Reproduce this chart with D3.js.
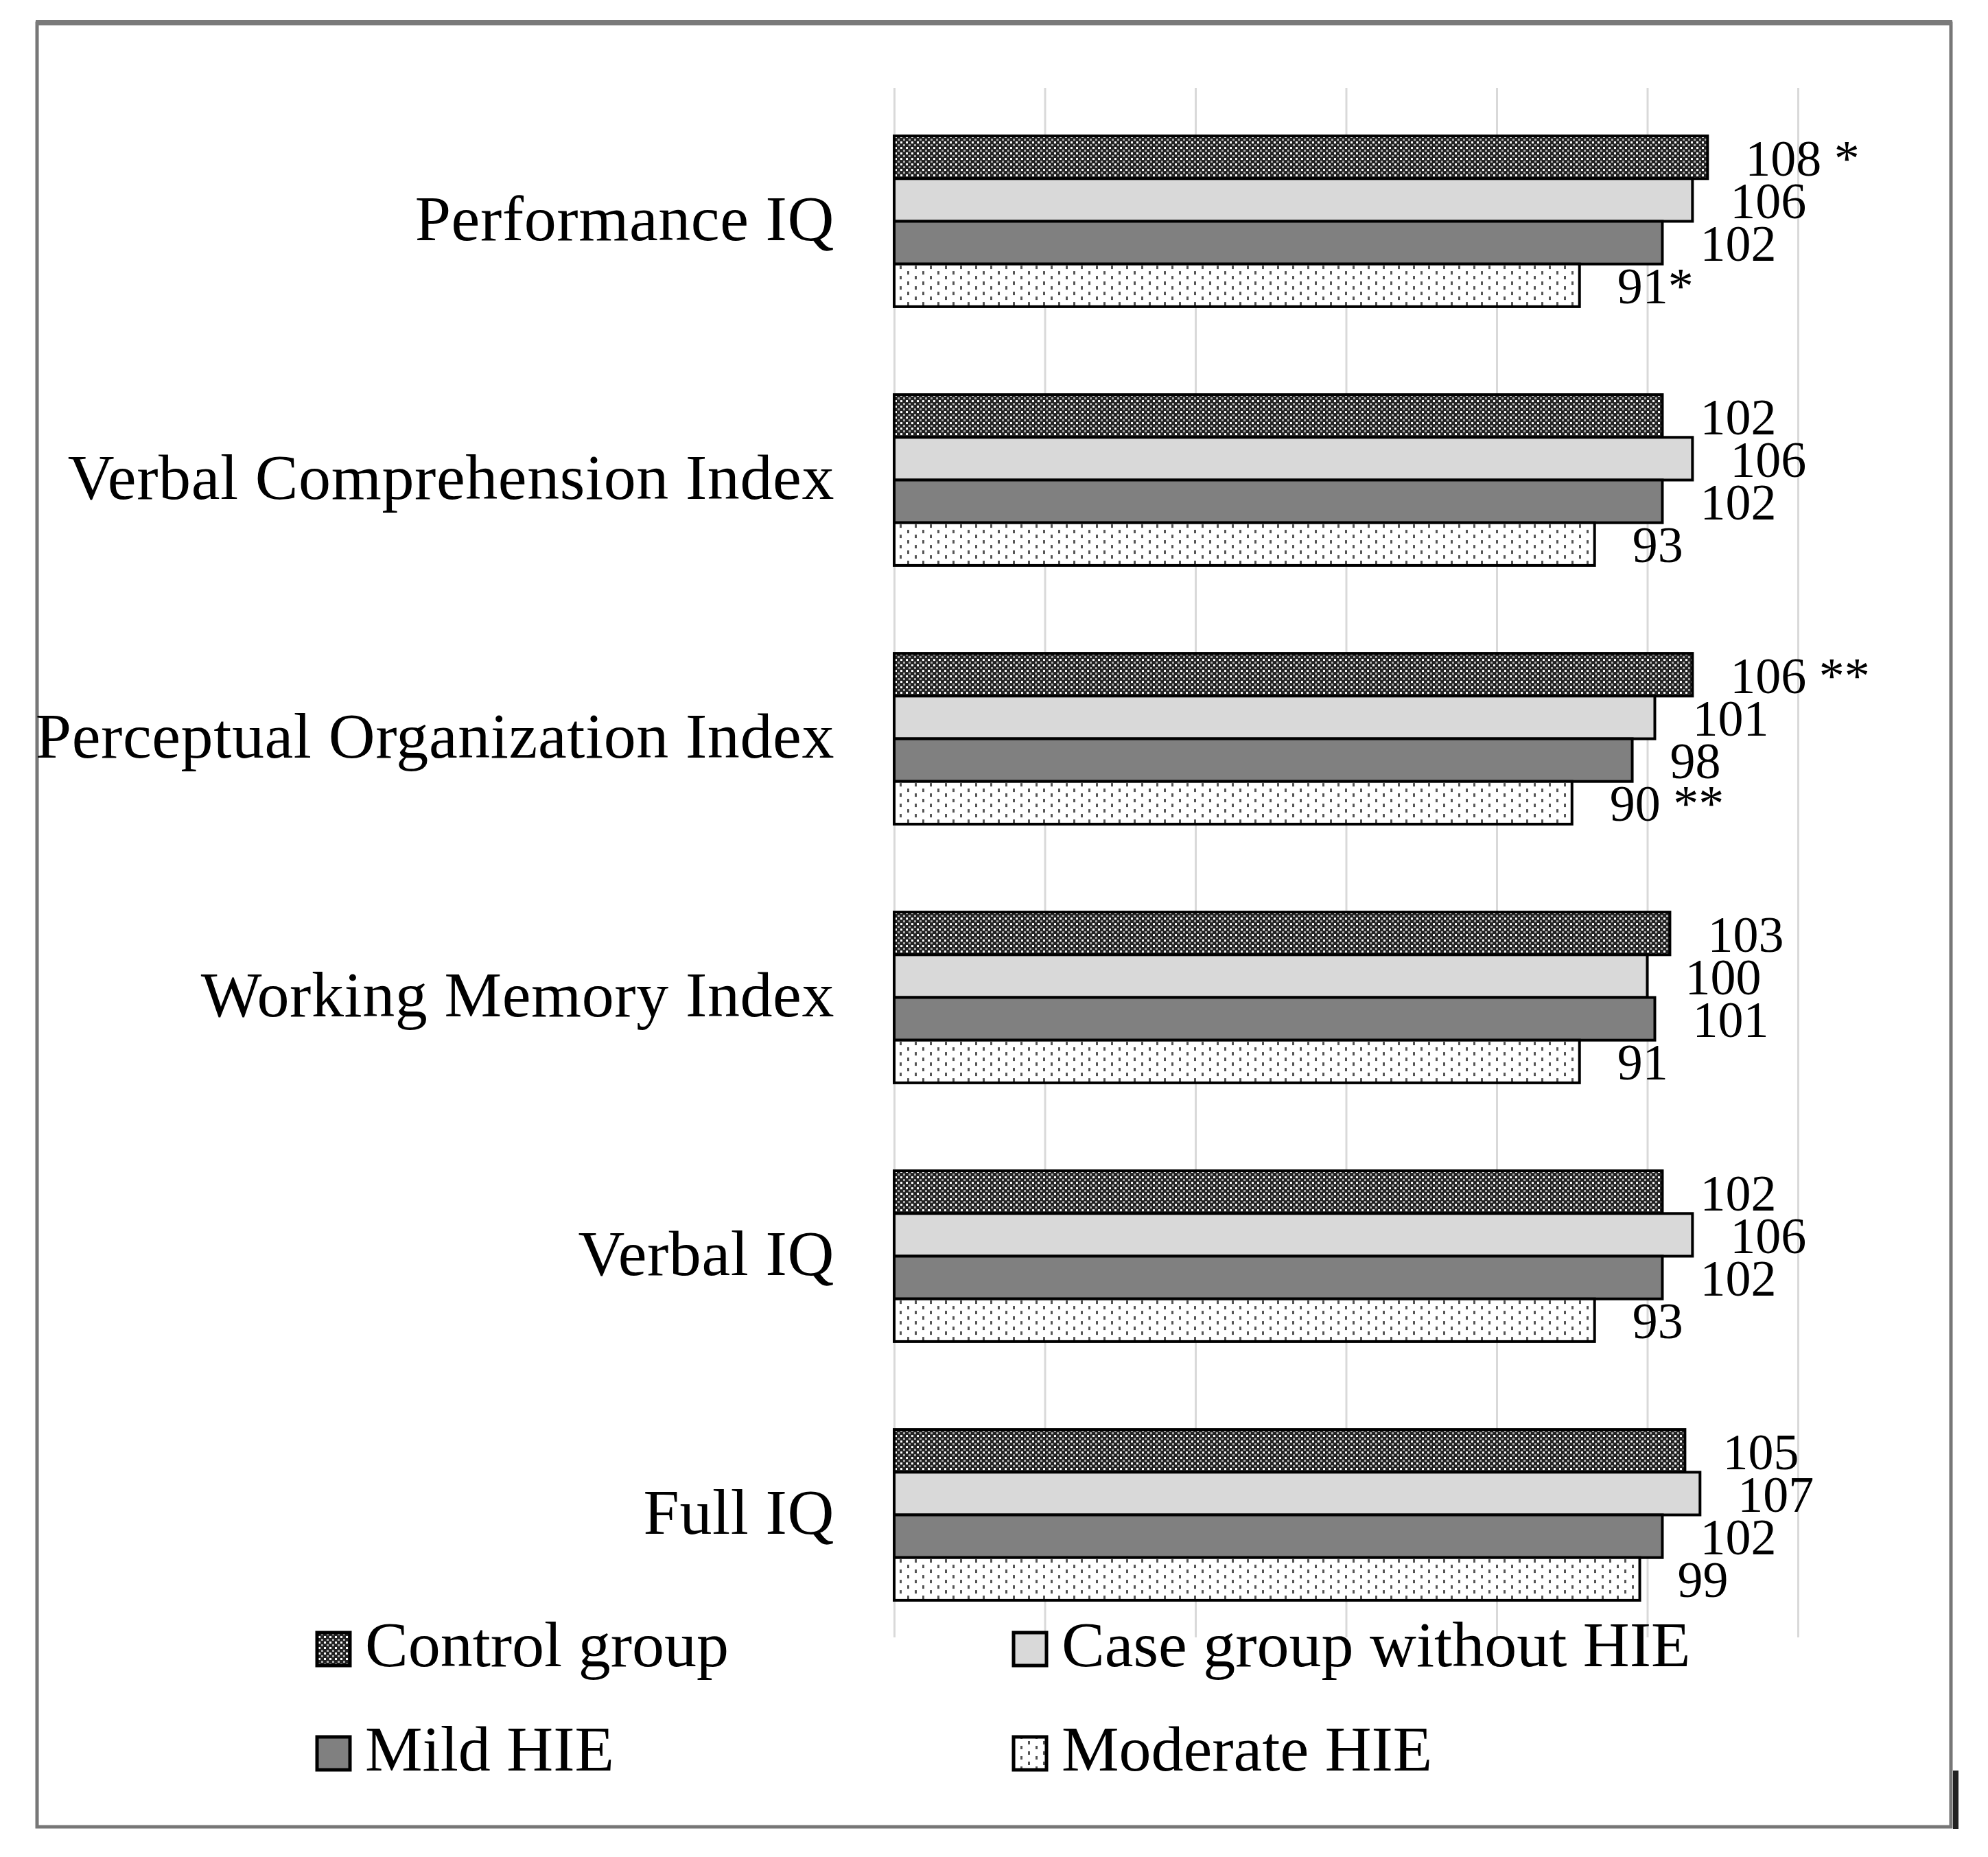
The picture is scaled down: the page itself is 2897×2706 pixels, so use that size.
<!DOCTYPE html>
<html>
<head>
<meta charset="utf-8">
<script src="https://cdn.jsdelivr.net/npm/d3@7"></script>
<style>
  html, body { margin: 0; padding: 0; background: #fff; }
  svg { display: block; }
  text { font-family: "Liberation Serif", "Times New Roman", serif; fill: #000; }
</style>
</head>
<body>
<script>
// ---- data ----
const categories = ["Performance IQ", "Verbal Comprehension Index", "Perceptual Organization Index", "Working Memory Index", "Verbal IQ", "Full IQ"];
const seriesNames = ["Control group", "Case group without HIE", "Mild HIE", "Moderate HIE"];
const controlValues  = [108, 102, 106, 103, 102, 105];
const caseValues     = [106, 106, 101, 100, 106, 107];
const mildValues     = [102, 102, 98, 101, 102, 102];
const moderateValues = [91, 93, 90, 91, 93, 99];
const controlLabels  = ["108 *", "102", "106 **", "103", "102", "105"];
const caseLabels     = ["106", "106", "101", "100", "106", "107"];
const mildLabels     = ["102", "102", "98", "101", "102", "102"];
const moderateLabels = ["91*", "93", "90 **", "91", "93", "99"];
const gridTicks = [0, 20, 40, 60, 80, 100, 120];

const seriesValues = [controlValues, caseValues, mildValues, moderateValues];
const seriesLabels = [controlLabels, caseLabels, mildLabels, moderateLabels];

const W = 2897, H = 2706;
const svg = d3.select("body").append("svg").attr("width", W).attr("height", H);
svg.append("rect").attr("width", W).attr("height", H).attr("fill", "#fff");

// ---- patterns ----
const defs = svg.append("defs");
const pc = defs.append("pattern").attr("id", "pControl").attr("patternUnits", "userSpaceOnUse")
  .attr("width", 8).attr("height", 8);
pc.append("rect").attr("width", 8).attr("height", 8).attr("fill", "#222");
pc.append("rect").attr("x", 0).attr("y", 0).attr("width", 3).attr("height", 3).attr("fill", "#fff");
pc.append("rect").attr("x", 4).attr("y", 4).attr("width", 3).attr("height", 3).attr("fill", "#aaa");

const pm = defs.append("pattern").attr("id", "pModerate").attr("patternUnits", "userSpaceOnUse")
  .attr("width", 22).attr("height", 15);
pm.append("rect").attr("width", 22).attr("height", 15).attr("fill", "#fff");
pm.append("rect").attr("x", 2).attr("y", 2).attr("width", 3).attr("height", 5).attr("fill", "#555");
pm.append("rect").attr("x", 13).attr("y", 9).attr("width", 3).attr("height", 5).attr("fill", "#555");

const fills = ["url(#pControl)", "#d9d9d9", "#808080", "url(#pModerate)"];

// ---- frame ----
svg.append("rect").attr("x", 54).attr("y", 34).attr("width", 2789).attr("height", 2628)
  .attr("fill", "none").attr("stroke", "#777").attr("stroke-width", 5);
svg.append("line").attr("x1", 52).attr("x2", 2845).attr("y1", 33).attr("y2", 33)
  .attr("stroke", "#7a7a7a").attr("stroke-width", 8);
svg.append("rect").attr("x", 2846).attr("y", 2580).attr("width", 8).attr("height", 85).attr("fill", "#222");

// ---- scales ----
const x = d3.scaleLinear().domain([0, 120]).range([1303, 2620]);
const y0 = d3.scaleBand().domain(categories).range([134, 2396]).paddingInner(0.34).paddingOuter(0.17);
const y1 = d3.scaleBand().domain(seriesNames).range([0, y0.bandwidth()]);

// ---- gridlines ----
const gridTop = 128, gridBottom = 2386;
const grid = svg.append("g").attr("transform", `translate(0,${gridTop})`)
  .call(d3.axisTop(x).tickValues(gridTicks).tickSize(-(gridBottom - gridTop)).tickFormat(""));
grid.select(".domain").remove();
grid.selectAll(".tick line").attr("stroke", "#d9d9d9").attr("stroke-width", 3);

// ---- bars ----
const groups = svg.append("g").selectAll("g").data(categories).join("g")
  .attr("transform", d => `translate(0,${y0(d)})`);

groups.each(function(cat, ci) {
  const g = d3.select(this);
  seriesNames.forEach((s, si) => {
    const v = seriesValues[si][ci];
    g.append("rect")
      .attr("x", x(0)).attr("y", y1(s))
      .attr("width", x(v) - x(0)).attr("height", y1.bandwidth())
      .attr("fill", fills[si]).attr("stroke", "#000").attr("stroke-width", 4);
  });
});
groups.each(function(cat, ci) {
  const g = d3.select(this);
  seriesNames.forEach((s, si) => {
    const v = seriesValues[si][ci];
    g.append("text")
      .attr("x", x(v) + 55).attr("y", y1(s) + y1.bandwidth() / 2)
      .attr("dy", "0.36em")
      .attr("font-size", 74)
      .text(seriesLabels[si][ci]);
  });
});

// ---- category labels ----
svg.append("g").selectAll("text").data(categories).join("text")
  .attr("x", 1216).attr("y", d => y0(d) + y0.bandwidth() / 2)
  .attr("dy", "0.29em").attr("text-anchor", "end")
  .attr("font-size", 94).attr("letter-spacing", 0.6).text(d => d);

// ---- legend ----
const legendPos = [
  { mx: 462, base: 2428 }, { mx: 1477, base: 2428 },
  { mx: 462, base: 2580 }, { mx: 1477, base: 2580 }
];
const lg = svg.append("g").selectAll("g").data(seriesNames).join("g");
lg.append("rect")
  .attr("x", (d, i) => legendPos[i].mx).attr("y", (d, i) => legendPos[i].base - 49)
  .attr("width", 48).attr("height", 48)
  .attr("fill", (d, i) => fills[i]).attr("stroke", "#000").attr("stroke-width", 5);
lg.append("text")
  .attr("x", (d, i) => legendPos[i].mx + 70).attr("y", (d, i) => legendPos[i].base)
  .attr("font-size", 94).text(d => d);
</script>
</body>
</html>
